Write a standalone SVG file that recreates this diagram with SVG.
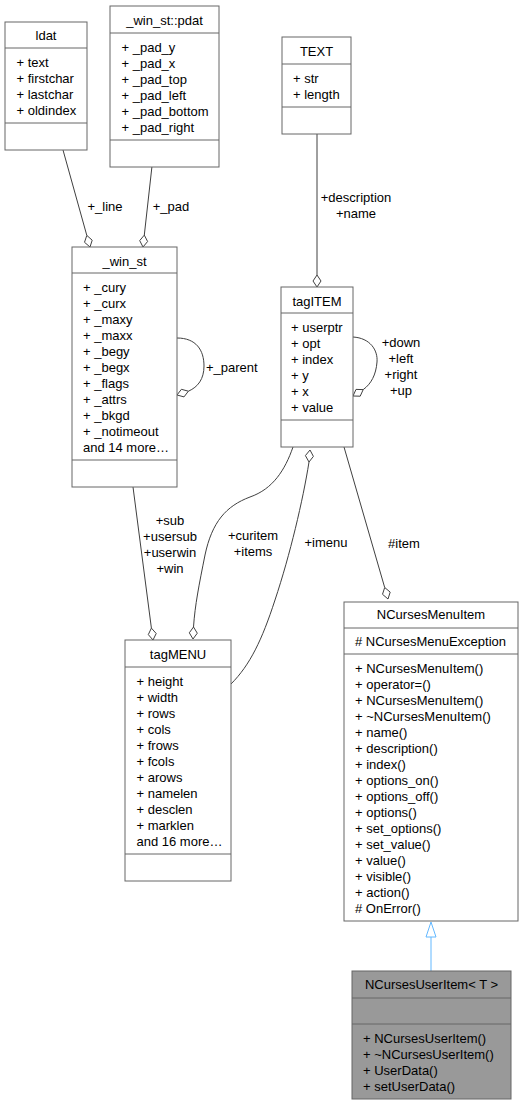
<svg xmlns="http://www.w3.org/2000/svg" width="524" height="1105" viewBox="0 0 524 1105">
<style>
text{font-family:"Liberation Sans",Arial,Helvetica,sans-serif;font-size:13px;fill:#000}
.t{text-anchor:middle}
.box{fill:#fff;stroke:#666666;stroke-width:1}
.cur{fill:#999999;stroke:#666666;stroke-width:1}
.sep{stroke:#666666;stroke-width:1}
.e{fill:none;stroke:#404040;stroke-width:1}
.d{fill:#fff;stroke:#404040;stroke-width:1}
.inh{fill:none;stroke:#63b8ff;stroke-width:1}
.ih{fill:#fff;stroke:#63b8ff;stroke-width:1}
</style>
<g id="connectors">
<path class="e" d="M63,150 L86.8,235.4"/>
<polygon class="d" points="90,247 92.2,240.2 86.8,235.4 84.5,242.3"/>
<text class="t" x="105" y="211">+_line</text>
<path class="e" d="M152,166 L144.3,235.1"/>
<polygon class="d" points="143,247 147.6,241.5 144.3,235.1 139.7,240.6"/>
<text class="t" x="171" y="211">+_pad</text>
<path class="e" d="M317,134 L317,275"/>
<polygon class="d" points="317,287 321,281 317,275 313,281"/>
<text class="t" x="356" y="202">+description</text>
<text class="t" x="356" y="218">+name</text>
<path class="e" d="M177,338 C196,338 204,350 204,366 C204,379 198,387 188.4,391.2"/>
<polygon class="d" points="177,395 184,396.9 188.4,391.2 181.4,389.3"/>
<text x="206" y="372">+_parent</text>
<path class="e" d="M353,337 C370,338 378,350 377,362 C376,375 371,384 363.2,389.6"/>
<polygon class="d" points="353,396 360.2,396.2 363.2,389.6 356,389.4"/>
<text class="t" x="401" y="347">+down</text>
<text class="t" x="401" y="363">+left</text>
<text class="t" x="401" y="379">+right</text>
<text class="t" x="401" y="395">+up</text>
<path class="e" d="M133,487 L151.4,628.1"/>
<polygon class="d" points="153,640 156.2,633.5 151.4,628.1 148.3,634.6"/>
<text class="t" x="170" y="525">+sub</text>
<text class="t" x="170" y="541">+usersub</text>
<text class="t" x="170" y="557">+userwin</text>
<text class="t" x="170" y="573">+win</text>
<path class="e" d="M293,447 C285,470 273,489 250,497 C226,506 212,522 205,555 C199,585 195,605 193.5,627"/>
<polygon class="d" points="193,639 197.3,633.2 193.5,627 189.3,632.8"/>
<text class="t" x="253" y="540">+curitem</text>
<text class="t" x="253" y="556">+items</text>
<path class="e" d="M231,684 C250,665 262,640 275,600 C290,555 303,500 309,462"/>
<polygon class="d" points="310,450 313.4,456.4 309,462 305.4,455.6"/>
<text class="t" x="326" y="547">+imenu</text>
<path class="e" d="M344,447 L384.7,587.5"/>
<polygon class="d" points="388,599 390.2,592.1 384.7,587.5 382.5,594.3"/>
<text class="t" x="404" y="548">#item</text>
<path class="inh" d="M431,971 L431,937"/>
<polygon class="ih" points="431,922 436,937 426,937"/>
</g>
<g id="ldat">
<rect class="box" x="5" y="22" width="82" height="128"/>
<line class="sep" x1="5" y1="48" x2="87" y2="48"/>
<line class="sep" x1="5" y1="123" x2="87" y2="123"/>
<text class="t" x="46" y="39.5">ldat</text>
<text x="16.5" y="66.5">+ text</text>
<text x="16.5" y="82.5">+ firstchar</text>
<text x="16.5" y="98.5">+ lastchar</text>
<text x="16.5" y="114.5">+ oldindex</text>
</g>
<g id="pdat">
<rect class="box" x="110" y="6" width="109" height="161"/>
<line class="sep" x1="110" y1="33" x2="219" y2="33"/>
<line class="sep" x1="110" y1="140" x2="219" y2="140"/>
<text class="t" x="164.5" y="24.5">_win_st::pdat</text>
<text x="121.5" y="51.5">+ _pad_y</text>
<text x="121.5" y="67.5">+ _pad_x</text>
<text x="121.5" y="83.5">+ _pad_top</text>
<text x="121.5" y="99.5">+ _pad_left</text>
<text x="121.5" y="115.5">+ _pad_bottom</text>
<text x="121.5" y="131.5">+ _pad_right</text>
</g>
<g id="TEXT">
<rect class="box" x="282" y="37" width="69" height="97"/>
<line class="sep" x1="282" y1="64" x2="351" y2="64"/>
<line class="sep" x1="282" y1="107" x2="351" y2="107"/>
<text class="t" x="316.5" y="55.5">TEXT</text>
<text x="293" y="82.5">+ str</text>
<text x="293" y="98.5">+ length</text>
</g>
<g id="win_st">
<rect class="box" x="72" y="247" width="105" height="240"/>
<line class="sep" x1="72" y1="273" x2="177" y2="273"/>
<line class="sep" x1="72" y1="460" x2="177" y2="460"/>
<text class="t" x="124.5" y="265.5">_win_st</text>
<text x="83" y="291.5">+ _cury</text>
<text x="83" y="307.5">+ _curx</text>
<text x="83" y="323.5">+ _maxy</text>
<text x="83" y="339.5">+ _maxx</text>
<text x="83" y="355.5">+ _begy</text>
<text x="83" y="371.5">+ _begx</text>
<text x="83" y="387.5">+ _flags</text>
<text x="83" y="403.5">+ _attrs</text>
<text x="83" y="419.5">+ _bkgd</text>
<text x="83" y="435.5">+ _notimeout</text>
<text x="83" y="451.5">and 14 more…</text>
</g>
<g id="tagITEM">
<rect class="box" x="281" y="287" width="72" height="160"/>
<line class="sep" x1="281" y1="313" x2="353" y2="313"/>
<line class="sep" x1="281" y1="420" x2="353" y2="420"/>
<text class="t" x="317" y="305.5">tagITEM</text>
<text x="291" y="331.5">+ userptr</text>
<text x="291" y="347.5">+ opt</text>
<text x="291" y="363.5">+ index</text>
<text x="291" y="379.5">+ y</text>
<text x="291" y="395.5">+ x</text>
<text x="291" y="411.5">+ value</text>
</g>
<g id="tagMENU">
<rect class="box" x="125" y="640" width="106" height="241"/>
<line class="sep" x1="125" y1="667" x2="231" y2="667"/>
<line class="sep" x1="125" y1="854" x2="231" y2="854"/>
<text class="t" x="178" y="658.5">tagMENU</text>
<text x="136.5" y="685.5">+ height</text>
<text x="136.5" y="701.5">+ width</text>
<text x="136.5" y="717.5">+ rows</text>
<text x="136.5" y="733.5">+ cols</text>
<text x="136.5" y="749.5">+ frows</text>
<text x="136.5" y="765.5">+ fcols</text>
<text x="136.5" y="781.5">+ arows</text>
<text x="136.5" y="797.5">+ namelen</text>
<text x="136.5" y="813.5">+ desclen</text>
<text x="136.5" y="829.5">+ marklen</text>
<text x="136.5" y="845.5">and 16 more…</text>
</g>
<g id="NCursesMenuItem">
<rect class="box" x="344" y="602" width="174" height="319"/>
<line class="sep" x1="344" y1="628" x2="518" y2="628"/>
<line class="sep" x1="344" y1="654" x2="518" y2="654"/>
<text class="t" x="431" y="618.5">NCursesMenuItem</text>
<text x="355" y="645.5"># NCursesMenuException</text>
<text x="355" y="672.5">+ NCursesMenuItem()</text>
<text x="355" y="688.5">+ operator=()</text>
<text x="355" y="704.5">+ NCursesMenuItem()</text>
<text x="355" y="720.5">+ ~NCursesMenuItem()</text>
<text x="355" y="736.5">+ name()</text>
<text x="355" y="752.5">+ description()</text>
<text x="355" y="768.5">+ index()</text>
<text x="355" y="784.5">+ options_on()</text>
<text x="355" y="800.5">+ options_off()</text>
<text x="355" y="816.5">+ options()</text>
<text x="355" y="832.5">+ set_options()</text>
<text x="355" y="848.5">+ set_value()</text>
<text x="355" y="864.5">+ value()</text>
<text x="355" y="880.5">+ visible()</text>
<text x="355" y="896.5">+ action()</text>
<text x="355" y="912.5"># OnError()</text>
</g>
<g id="NCursesUserItem">
<rect class="cur" x="352" y="971" width="159" height="128"/>
<line class="sep" x1="352" y1="998" x2="511" y2="998"/>
<line class="sep" x1="352" y1="1024" x2="511" y2="1024"/>
<text class="t" x="431.5" y="988.5">NCursesUserItem&lt; T &gt;</text>
<text x="363" y="1042.5">+ NCursesUserItem()</text>
<text x="363" y="1058.5">+ ~NCursesUserItem()</text>
<text x="363" y="1074.5">+ UserData()</text>
<text x="363" y="1090.5">+ setUserData()</text>
</g>
</svg>
